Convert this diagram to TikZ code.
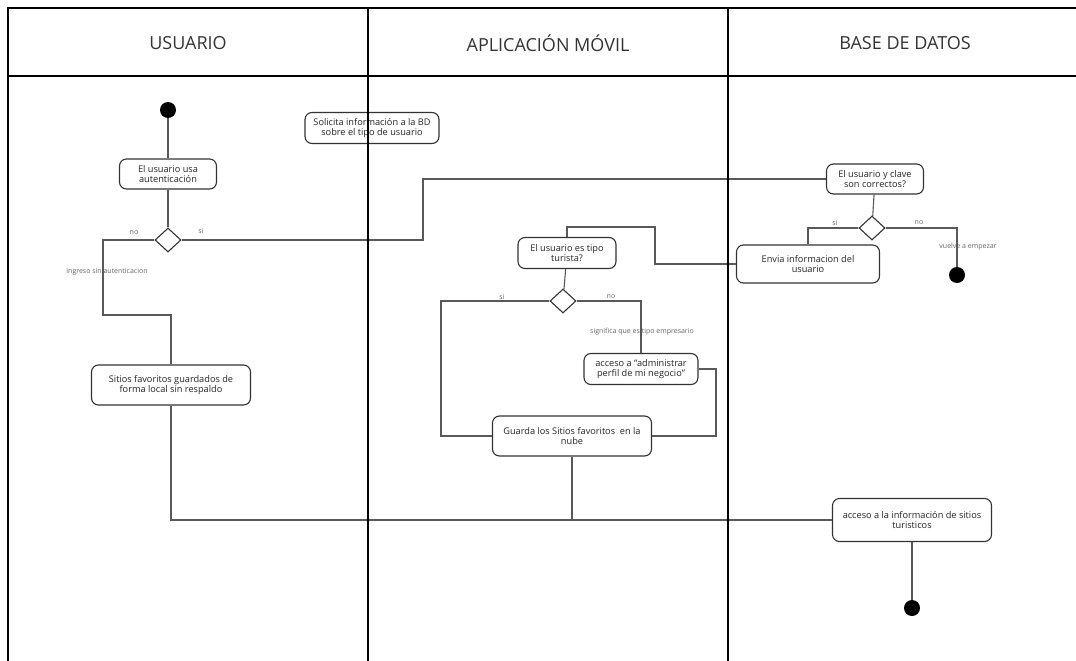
\documentclass[tikz,border=0pt]{standalone}
\usepackage{fontspec}
\setmainfont{Open Sans}
\usetikzlibrary{shapes.geometric,positioning}

\begin{document}
\begin{tikzpicture}
  [x=1pt,y=-1pt,
   act/.style={draw=black!80,line width=1.1pt,rounded corners=7pt,fill=white,align=center,
     inner sep=0pt,font=\fontsize{9.2}{10}\selectfont,text=black!85},
   dec/.style={diamond,draw=black!80,line width=1.1pt,fill=white,minimum width=26pt,minimum height=24pt,inner sep=0pt},
   dot/.style={circle,fill=black,minimum size=16pt,inner sep=0pt},
   flow/.style={draw=black!65,line width=1.1pt},
   lbl/.style={text=black!60,font=\fontsize{7}{8}\selectfont,inner sep=0pt},
   lane/.style={line width=2.6pt},
   head/.style={font=\fontsize{18}{18}\selectfont,text=black!80}]
  \useasboundingbox (0,0) rectangle (1076,661);

  \node[head] (hu) at (188,43) {USUARIO};
  \node[head] (ha) at (548,43) {APLICACIÓN MÓVIL};
  \node[head] (hb) at (905,43) {BASE DE DATOS};

  \node[dot] (s1) at (168,110) {};
  \node[act,minimum width=97pt,minimum height=30pt] (aut) at (168,174) {El usuario usa\\autenticación};
  \node[dec] (d1) at (168,240) {};
  \node[act,minimum width=159pt,minimum height=40pt] (loc) at (171,385) {Sitios favoritos guardados de\\forma local sin respaldo};
  \node[act,minimum width=134pt,minimum height=31pt] (sol) at (372,128) {Solicita información a la BD\\sobre el tipo de usuario};
  \node[act,minimum width=97pt,minimum height=30pt] (cla) at (875,179) {El usuario y clave\\son correctos?};
  \node[dec] (d2) at (872,228) {};
  \node[act,minimum width=143pt,minimum height=38pt] (env) at (808,264) {Envia informacion del\\usuario};
  \node[dot] (e2) at (957,275) {};
  \node[act,minimum width=98pt,minimum height=31pt] (tur) at (567,253) {El usuario es tipo\\turista?};
  \node[dec] (d3) at (563,301) {};
  \node[act,minimum width=114pt,minimum height=31pt] (neg) at (641,369) {acceso a ``administrar\\perfil de mi negocio''};
  \node[act,minimum width=159pt,minimum height=40pt] (nub) at (572,436) {Guarda los Sitios favoritos \ en la\\nube};
  \node[act,minimum width=159pt,minimum height=43pt] (inf) at (912,520) {acceso a la información de sitios\\turisticos};
  \node[dot] (e3) at (912,608) {};

  \node[lbl] (l1) at (134,233) {no};
  \node[lbl] (l2) at (201,231) {si};
  \node[lbl] (l3) at (107,272) {ingreso sin autenticacion};
  \node[lbl] (l4) at (835,223) {si};
  \node[lbl] (l5) at (919,223) {no};
  \node[lbl] (l6) at (968,247) {vuelve a empezar};
  \node[lbl] (l7) at (502,297) {si};
  \node[lbl] (l8) at (611,297) {no};
  \node[lbl] (l9) at (642,332) {significa que es tipo empresario};

  \foreach \from/\to in {s1/aut,aut/d1,cla/d2,tur/d3,inf/e3}
    \draw[flow] (\from) -- (\to);

  \draw[flow] (d1.west) -| (103,315) -| (loc.north);
  \draw[flow] (loc.south) |- (inf.west);
  \draw[flow] (d1.east) -| (423,179) -- (cla.west);
  \draw[flow] (d2.west) -| (env.north);
  \draw[flow] (d2.east) -| (e2.north);
  \draw[flow] (env.west) -| (655,227) -| (tur.north);
  \draw[flow] (d3.west) -| (441,436) -- (nub.west);
  \draw[flow] (d3.east) -| (neg.north);
  \draw[flow] (neg.east) -| (716,436) -- (nub.east);
  \draw[flow] (nub.south) -- (nub.south |- inf.west);

  % carriles
  \draw[lane] (8,661) -- (8,8) -- (1076,8);
  \draw[line width=1.8pt] (8,76) -- (1076,76);
  \foreach \x in {368,728}
    \draw[lane] (\x,8) -- (\x,661);
\end{tikzpicture}
\end{document}
